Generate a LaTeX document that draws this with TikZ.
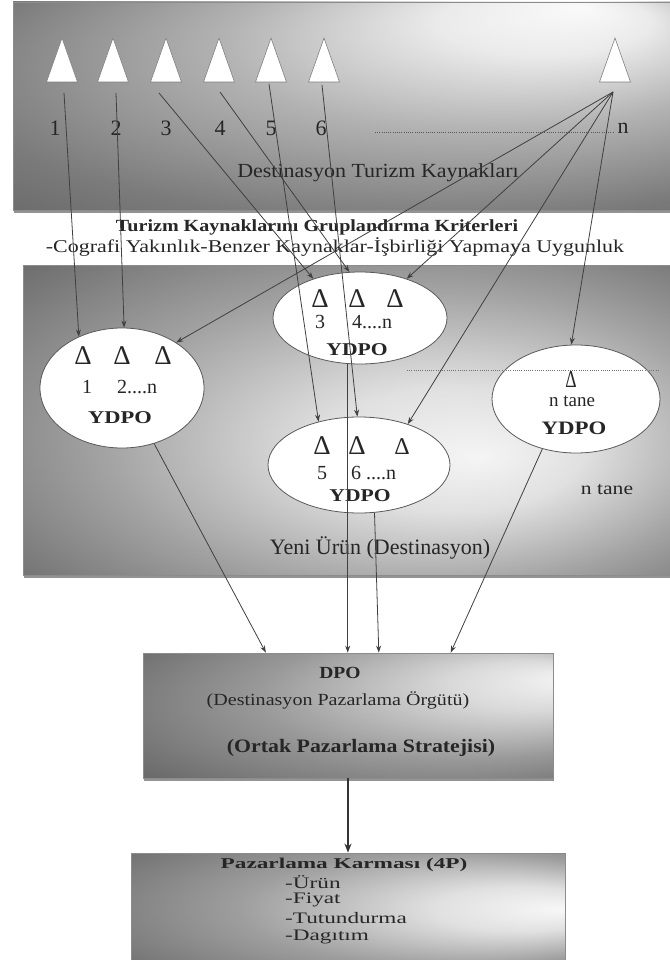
\documentclass[tikz,border=0pt]{standalone}
\usepackage{fontspec}
\setmainfont{Liberation Serif}
\usepackage{graphicx}
\usetikzlibrary{arrows.meta,calc,shadows,shapes.geometric}
\pgfdeclareradialshading{topsh}{\pgfpoint{18bp}{24bp}}{color(0bp)=(black!2); color(8bp)=(black!8); color(20bp)=(black!30); color(35bp)=(black!52); color(50bp)=(black!66)}
\pgfdeclareradialshading{midsh}{\pgfpoint{10bp}{-6bp}}{color(0bp)=(black!4); color(10bp)=(black!12); color(24bp)=(black!36); color(38bp)=(black!57); color(50bp)=(black!68)}
\pgfdeclareradialshading{dposh}{\pgfpoint{28bp}{15bp}}{color(0bp)=(black!4); color(10bp)=(black!15); color(25bp)=(black!40); color(40bp)=(black!58); color(50bp)=(black!66)}
\pgfdeclareradialshading{pksh}{\pgfpoint{25bp}{0bp}}{color(0bp)=(black!3); color(10bp)=(black!12); color(25bp)=(black!38); color(40bp)=(black!56); color(50bp)=(black!64)}
\newcommand\myfs[1]{\fontsize{#1}{#1}\selectfont}
\tikzset{
 box/.style={draw=black!45, line width=0.8pt, rectangle, inner sep=0pt, shade,
   drop shadow={shadow xshift=1pt, shadow yshift=-3pt, fill=black!60, opacity=0.7}},
 ell/.style={draw=black!65, fill=white, ellipse, line width=0.8pt, inner sep=0pt},
 conn/.style={draw=black!75, line width=0.8pt, -{Stealth[length=7pt,width=5pt]}},
 tri/.style={fill=white, draw=black!50, line width=0.6pt},
 txt/.style={text=black!85, inner sep=0pt},
 dots/.style={draw=black!65, line width=1pt, dash pattern=on 1pt off 1.2pt},
}
\begin{document}
\begin{tikzpicture}[x=1pt,y=-1pt]
\useasboundingbox (0,0) rectangle (669,960);
\fill[white] (0,0) rectangle (669,960);

% boxes
\node[box, shading=topsh, minimum width=662pt, minimum height=208pt] (top) at (344,106) {};
\node[box, shading=midsh, minimum width=652pt, minimum height=310pt] (mid) at (349,420) {};
\node[box, shading=dposh, minimum width=410pt, minimum height=125pt] (dpo) at (348,715.5) {};
\node[box, shading=pksh, minimum width=434pt, minimum height=112pt] (pk) at (348,909) {};

% triangles
\foreach \x in {62,113,166,219,271,324,615} {
  \draw[tri] (\x,38) -- ++(15.5,44) -- ++(-31,0) -- cycle;
}
\coordinate (s1) at (64,93);
\coordinate (s2) at (116,93);
\coordinate (s3) at (159,93);
\coordinate (s4) at (220,92);
\coordinate (s5) at (269,84);
\coordinate (s6) at (322,85);
\coordinate (sn) at (613,92);

% numbers
\node[txt, font=\myfs{22}] (n1) at (55,128) {1};
\node[txt, font=\myfs{22}] (n2) at (116,128) {2};
\node[txt, font=\myfs{22}] (n3) at (166,128) {3};
\node[txt, font=\myfs{22}] (n4) at (220,128) {4};
\node[txt, font=\myfs{22}] (n5) at (271,128) {5};
\node[txt, font=\myfs{22}] (n6) at (321,128) {6};
\node[txt, font=\myfs{22}] (nn) at (623,128) {n};
\coordinate (dA) at (375,133);
\coordinate (dB) at (614,133);
\draw[dots] (dA) -- (dB);

\node[txt, font=\myfs{20}] (tdk) at (378,173) {\scalebox{1.1}[1]{Destinasyon Turizm Kaynakları}};
\node[txt, font=\myfs{17}\bfseries] (tkg) at (317,227) {\scalebox{1.18}[1]{Turizm Kaynaklarını Gruplandırma Kriterleri}};
\node[txt, font=\myfs{18}] (tcr) at (335,247) {\scalebox{1.22}[1]{-Cografi Yakınlık-Benzer Kaynaklar-İşbirliği Yapmaya Uygunluk}};

% ellipses
\node[ell, minimum width=174pt, minimum height=92pt] (eA) at (360,318) {};
\node[ell, minimum width=164pt, minimum height=120pt] (eB) at (122,388) {};
\node[ell, minimum width=182pt, minimum height=96pt] (eC) at (359,465) {};
\node[ell, minimum width=168pt, minimum height=108pt] (eD) at (576,399) {};

% ellipse A texts
\node[txt, font=\myfs{27}] (aD1) at (320,299) {Δ};
\node[txt, font=\myfs{27}] (aD2) at (357,299) {Δ};
\node[txt, font=\myfs{27}] (aD3) at (395,299) {Δ};
\node[txt, font=\myfs{20}] (aN1) at (320,322) {3};
\node[txt, font=\myfs{20}, anchor=west] (aN2) at (352,322) {4....n};
\node[txt, font=\myfs{18}\bfseries] (aY) at (357,350) {\scalebox{1.2}[1]{YDPO}};

% ellipse B texts
\node[txt, font=\myfs{27}] (bD1) at (83,356) {Δ};
\node[txt, font=\myfs{27}] (bD2) at (122,356) {Δ};
\node[txt, font=\myfs{27}] (bD3) at (163,356) {Δ};
\node[txt, font=\myfs{20}] (bN1) at (87,387) {1};
\node[txt, font=\myfs{20}, anchor=west] (bN2) at (117,387) {2....n};
\node[txt, font=\myfs{18}\bfseries] (bY) at (120,418) {\scalebox{1.25}[1]{YDPO}};

% ellipse C texts
\node[txt, font=\myfs{27}] (cD1) at (322,446) {Δ};
\node[txt, font=\myfs{27}] (cD2) at (357,446) {Δ};
\node[txt, font=\myfs{24}] (cD3) at (402,447) {Δ};
\node[txt, font=\myfs{20}] (cN1) at (322,473) {5};
\node[txt, font=\myfs{20}, anchor=west] (cN2) at (351,473) {6 ....n};
\node[txt, font=\myfs{18}\bfseries] (cY) at (360,496) {\scalebox{1.2}[1]{YDPO}};

% ellipse D texts
\node[txt, font=\myfs{22}] (dD1) at (571,380) {\scalebox{0.8}[1.1]{Δ}};
\node[txt, font=\myfs{19}] (dN) at (572,401) {n tane};
\node[txt, font=\myfs{19}\bfseries] (dY) at (574,428) {\scalebox{1.2}[1]{YDPO}};

\coordinate (mA) at (407,370);
\coordinate (mB) at (660,370);
\draw[dots, draw=black!55] (mA) -- (mB);

\node[txt, font=\myfs{18}] (ntn) at (607,490) {\scalebox{1.2}[1]{n tane}};
\node[txt, font=\myfs{22}] (yeni) at (380,548) {Yeni Ürün (Destinasyon)};

% DPO box texts
\node[txt, font=\myfs{17}\bfseries] (tdpo) at (340,673) {\scalebox{1.15}[1]{DPO}};
\node[txt, font=\myfs{17}] (tdpo2) at (338,700) {\scalebox{1.18}[1]{(Destinasyon Pazarlama Örgütü)}};
\node[txt, font=\myfs{19}\bfseries] (tdpo3) at (361,748) {\scalebox{1.15}[1]{(Ortak Pazarlama Stratejisi)}};

% 4P box texts
\node[txt, font=\myfs{15}\bfseries] (tpk) at (344,865) {\scalebox{1.55}[1]{Pazarlama Karması (4P)}};
\node[txt, font=\myfs{16}, anchor=west] (pk1) at (285,882) {\scalebox{1.45}[1]{-Ürün}};
\node[txt, font=\myfs{16}, anchor=west] (pk2) at (285,900) {\scalebox{1.45}[1]{-Fiyat}};
\node[txt, font=\myfs{16}, anchor=west] (pk3) at (285,918) {\scalebox{1.45}[1]{-Tutundurma}};
\node[txt, font=\myfs{16}, anchor=west] (pk4) at (285,937) {\scalebox{1.45}[1]{-Dagıtım}};

% connectors
\draw[conn] (s1) -- (eB.130);
\draw[conn] (s2) -- (eB.88);
\draw[conn] (sn) -- (eB.40);
\draw[conn] (s3) -- (eA.140);
\draw[conn] (s4) -- (eA.103);
\draw[conn] (sn) -- (eA.40);
\draw[conn] (s5) -- (eC.133);
\draw[conn] (s6) -- (eC.92);
\draw[conn] (sn) -- (eC.40);
\draw[conn] (sn) -- (eD.95);
\draw[conn] (eB.-60) -- ($(dpo.north west)!0.3!(dpo.north east)$);
\draw[conn] (eA.255) -- (eA.255 |- dpo.north);
\draw[conn] (eC.288) -- ($(dpo.north west)!0.575!(dpo.north east)$);
\draw[conn] (eD.236) -- ($(dpo.north west)!0.75!(dpo.north east)$);
\draw[draw=black!80, line width=2pt, -{Stealth[length=9pt,width=7pt]}] (dpo.south) -- (pk.north);
\end{tikzpicture}
\end{document}
